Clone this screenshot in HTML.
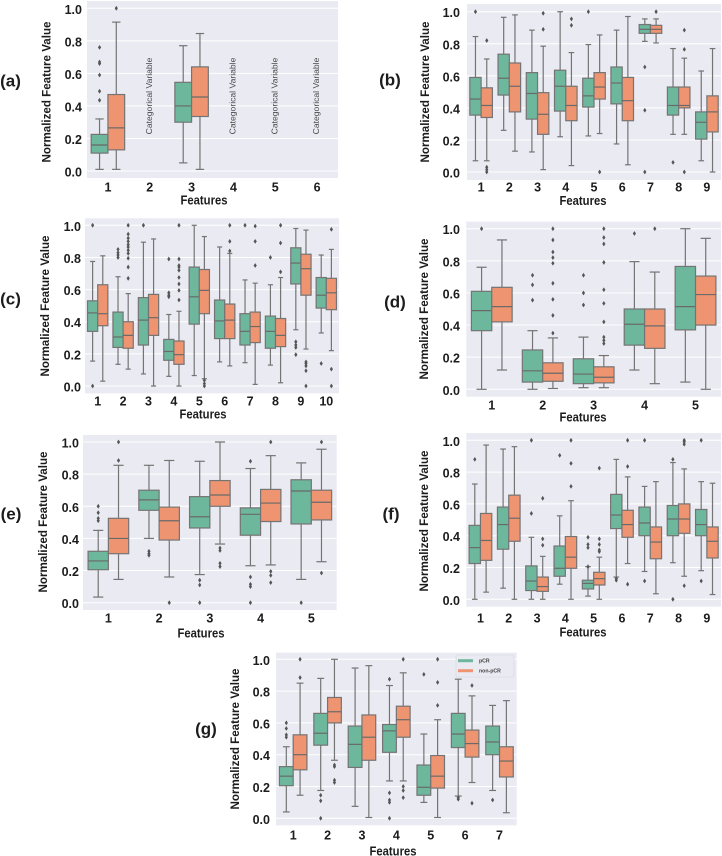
<!DOCTYPE html>
<html lang="en">
<head>
<meta charset="utf-8">
<title>Normalized feature value box plots by response group</title>
<style>
html,body{margin:0;padding:0;background:#fff;width:722px;height:856px;overflow:hidden}
svg{display:block;font-family:"Liberation Sans",sans-serif;filter:blur(0.3px)}
.tick{font-size:12.5px;font-weight:bold;fill:#1c1c1c}
.ytitle{font-size:12.2px;font-weight:bold;fill:#1c1c1c}
.xtitle{font-size:12.6px;font-weight:bold;fill:#1c1c1c}
.plabel{font-size:17px;font-weight:bold;fill:#1c1c1c}
.note{font-size:8.6px;fill:#4a4a4a}
.legtext{font-size:5.2px;font-weight:bold;fill:#444}
</style>
</head>
<body>
<svg id="figure" width="722" height="856" viewBox="0 0 722 856" xmlns="http://www.w3.org/2000/svg"></svg>
<script>
// Shared tick labels
const yTickValues = [0, 0.2, 0.4, 0.6, 0.8, 1.0];
const yTickLabels = ["0.0", "0.2", "0.4", "0.6", "0.8", "1.0"];
const seriesNames = ["pCR", "non-pCR"];

// Each stat row is: lower whisker, Q1, median, Q3, upper whisker
// Panel (a)
const aCategories = [1, 2, 3, 4, 5, 6];
const aNotes = [null, "Categorical Variable", null, "Categorical Variable", "Categorical Variable", "Categorical Variable"];
const aPcrStats = [[.01,.11,.16,.225,.32], null, [.05,.30,.40,.545,.77], null, null, null];
const aNonStats = [[.01,.13,.265,.47,.915], null, [.01,.335,.455,.64,.845], null, null, null];
const aPcrFliers = [[.76,.67,.66,.59,.49,.435], [], [], [], [], []];
const aNonFliers = [[1.0], [], [], [], [], []];

// Panel (b)
const bCategories = [1, 2, 3, 4, 5, 6, 7, 8, 9];
const bPcrStats = [[.07,.355,.455,.59,.845],[.26,.48,.585,.735,.965],[.125,.33,.49,.62,.885],[.22,.38,.535,.635,1.0],[.225,.405,.475,.585,.795],[.175,.425,.555,.655,.885],[.815,.865,.89,.92,.955],[.235,.355,.415,.53,.77],[.07,.205,.31,.375,.63]];
const bNonStats = [[.07,.34,.415,.525,.705],[.13,.375,.535,.68,.98],[.015,.235,.36,.495,.785],[.04,.32,.415,.535,.745],[.24,.455,.53,.62,.855],[.045,.32,.445,.59,.97],[.805,.865,.89,.915,.955],[.235,.40,.415,.53,.71],[0,.25,.375,.475,.77]];
const bPcrFliers = [[1.0],[],[],[],[1.0],[],[.655,.385,0],[.06],[]];
const bNonFliers = [[.82,.03,.015,0],[],[.99,.89],[.955,.915],[0],[],[1.0],[.885,.765,0],[]];

// Panel (c)
const cCategories = [1, 2, 3, 4, 5, 6, 7, 8, 9, 10];
const cPcrStats = [[.155,.34,.455,.53,.775],[.135,.24,.305,.46,.68],[.075,.255,.41,.55,.895],[.06,.16,.215,.29,.445],[.065,.385,.555,.74,1.0],[.15,.295,.405,.535,.865],[.145,.255,.34,.45,.66],[.13,.235,.34,.435,.63],[.35,.635,.765,.86,.98],[.33,.485,.565,.675,.815]];
const cNonStats = [[.03,.375,.45,.63,.81],[.105,.235,.315,.40,.575],[0,.315,.425,.57,.915],[0,.135,.195,.28,.465],[.045,.45,.595,.725,.93],[.125,.295,.41,.51,.825],[.01,.27,.37,.46,.64],[.02,.245,.315,.42,.675],[.23,.565,.73,.82,.97],[.22,.475,.58,.67,.85]];
const cPcrFliers = [[1.0,0],[.85,.83,.815,.8],[1.0],[.79,.58,.565,.555],[],[],[1.0],[.8],[.275,.255,.24,.195],[.14]];
const cNonFliers = [[],[1,.945,.92,.9,.88,.865,.845,.825,.795,.74,.67],[],[1,.79,.75,.74,.72,.675,.635,.595,.535],[.035,.015,0],[1,.9,.84],[.995,.9,.75],[1,.89,.71],[.15,.14,.125,.095,0],[.975,.105,0]];

// Panel (d)
const dCategories = [1, 2, 3, 4, 5];
const dPcrStats = [[0,.365,.49,.61,.76],[0,.045,.115,.245,.365],[.01,.035,.095,.19,.325],[.12,.275,.405,.50,.795],[.045,.37,.515,.765,1.0]];
const dNonStats = [[.12,.42,.515,.635,.93],[.005,.05,.10,.165,.32],[.01,.04,.075,.14,.21],[.035,.255,.395,.50,.73],[0,.40,.59,.705,.94]];
const dPcrFliers = [[1.0],[.71,.65,.555],[.71,.60,.525],[.97],[]];
const dNonFliers = [[],[1,.93,.855,.82,.785,.66,.56,.46,.35],[1,.945,.905,.79,.62,.535,.42,.325,.305,.285],[1.0],[]];

// Panel (e)
const eCategories = [1, 2, 3, 4, 5];
const ePcrStats = [[.035,.205,.26,.32,.45],[.40,.575,.64,.70,.855],[.175,.465,.535,.66,.88],[.23,.42,.55,.59,.835],[.145,.49,.695,.765,.87]];
const eNonStats = [[.145,.305,.40,.525,.855],[.16,.39,.51,.595,.885],[.365,.60,.67,.76,1.0],[.235,.505,.62,.705,.915],[.255,.515,.625,.70,.955]];
const ePcrFliers = [[.6,.56,.525,.51],[.32,.305,.295],[.14,.11,0],[.88,.16,.115,.10,0],[0]];
const eNonFliers = [[1,.885],[0],[.34,.325,.245,.225],[1,.195,.17,.125],[1,.185]];

// Panel (f)
const fCategories = [1, 2, 3, 4, 5, 6, 7, 8, 9];
const fPcrStats = [[0,.225,.325,.465,.725],[.07,.315,.47,.58,.945],[0,.055,.115,.21,.39],[.095,.145,.195,.335,.525],[.02,.065,.10,.12,.205],[.14,.445,.53,.66,.88],[.175,.40,.48,.58,.71],[.23,.40,.505,.59,.86],[.18,.40,.47,.565,.74]];
const fNonStats = [[.045,.245,.37,.54,.97],[0,.365,.51,.655,.96],[0,.05,.08,.14,.27],[0,.195,.265,.395,.62],[0,.09,.13,.17,.265],[.225,.39,.47,.56,.77],[.035,.255,.36,.455,.74],[.145,.415,.505,.60,.82],[.03,.26,.365,.455,.73]];
const fPcrFliers = [[.88],[],[1,.54],[.905],[.39,.345,.325,.205],[.13,.12],[1,.115],[.88,0],[1,.115]];
const fNonFliers = [[],[],[.635,.38,.34],[1,.855,.71],[.825,.38,.345,.31,.30],[1,.835,.095],[],[1,.99,.975,.085],[]];

// Panel (g)
const gCategories = [1, 2, 3, 4, 5, 6, 7];
const gPcrStats = [[.04,.205,.265,.325,.45],[.175,.46,.535,.66,.88],[.075,.32,.465,.58,.945],[.235,.415,.55,.59,.835],[.10,.145,.195,.335,.53],[.14,.445,.53,.66,.875],[.175,.40,.48,.58,.71]];
const gNonStats = [[.145,.305,.40,.525,.85],[.365,.60,.67,.76,1.0],[.005,.365,.51,.65,.96],[.235,.51,.62,.705,.915],[.005,.19,.265,.395,.62],[.225,.385,.47,.555,.77],[.035,.26,.36,.45,.74]];
const gPcrFliers = [[.6,.565,.525,.51],[.145,.11,0],[],[.875,.16,.115,.10,0],[.905],[.13,.12],[.115]];
const gNonFliers = [[1,.885],[.335,.325,.24,.225],[],[1,.2,.175,.13],[1,.855,.71],[.835,.095],[]];

const svg = document.getElementById('figure');
const NS = 'http://www.w3.org/2000/svg';
const COLORS = ['#6db79d', '#ee9471'];
const LINE = '#747474';
const LW = 1.2;

function make(parent, tag, attrs, content) {
  const el = document.createElementNS(NS, tag);
  for (const k in attrs) el.setAttribute(k, attrs[k]);
  if (content !== undefined) el.textContent = content;
  parent.appendChild(el);
  return el;
}

function drawBox(parent, cx, w, stats, fliers, color, yScale, seriesIdx, catLabel) {
  const group = make(parent, 'g', {});
  
  
  if (stats) {
    const [lo, q1, med, q3, hi] = stats;
    const cap = w / 4;
    const w1 = make(group, 'line', {x1: cx, x2: cx, y1: yScale(lo), y2: yScale(q1), stroke: LINE, 'stroke-width': LW});
    
    
    const w2 = make(group, 'line', {x1: cx, x2: cx, y1: yScale(q3), y2: yScale(hi), stroke: LINE, 'stroke-width': LW});
    
    
    const c1 = make(group, 'line', {x1: cx - cap, x2: cx + cap, y1: yScale(lo), y2: yScale(lo), stroke: LINE, 'stroke-width': LW});
    
    
    const c2 = make(group, 'line', {x1: cx - cap, x2: cx + cap, y1: yScale(hi), y2: yScale(hi), stroke: LINE, 'stroke-width': LW});
    
    
    const rect = make(group, 'rect', {x: cx - w / 2, y: yScale(q3), width: w, height: yScale(q1) - yScale(q3), fill: color, stroke: LINE, 'stroke-width': LW});
    
    
    const m = make(group, 'line', {x1: cx - w / 2, x2: cx + w / 2, y1: yScale(med), y2: yScale(med), stroke: '#6a6a6a', 'stroke-width': LW});
    
    
  }
  (fliers || []).forEach(v => {
    const y = yScale(v);
    const pts = [[cx, y - 2.4], [cx + 1.6, y], [cx, y + 2.4], [cx - 1.6, y]].map(p => p.join(',')).join(' ');
    const f = make(group, 'polygon', {points: pts, fill: '#555'});
    
    
  });
}

function drawPanel(cfg) {
  const {id, x0, x1, top, bottom, y1px, y0px, cats, pcr, non, pcrF, nonF, notes} = cfg;
  const n = cats.length;
  const yScale = v => y0px + (y1px - y0px) * v;
  const band = (x1 - x0) / n;
  const xScale = i => x0 + (i + 0.5) * band;
  const boxW = band * 0.4;

  const panel = make(svg, 'g', {});
  
  

  const bg = make(panel, 'rect', {x: x0, y: top, width: x1 - x0, height: bottom - top, fill: '#eaeaf2'});
  
  

  yTickValues.forEach((v, i) => {
    const grid = make(panel, 'line', {x1: x0, x2: x1, y1: yScale(v), y2: yScale(v), stroke: '#fff', 'stroke-width': 1});
    
    
    const t = make(panel, 'text', {class: 'tick', x: cfg.yLabelX, y: yScale(v) + 5.5, 'text-anchor': 'end'}, yTickLabels[i]);
    
    
  });

  cats.forEach((c, i) => {
    const cx = xScale(i);
    if (notes && notes[i]) {
      const note = make(panel, 'text', {class: 'note', transform: 'translate(' + (cx - 1) + ',' + ((top + bottom) / 2 + 6.5) + ') rotate(-90)', 'text-anchor': 'middle', 'dominant-baseline': 'central'}, notes[i]);
      
      
    }
    drawBox(panel, cx - boxW / 2, boxW, pcr[i], pcrF[i], COLORS[0], yScale, 0, c);
    drawBox(panel, cx + boxW / 2, boxW, non[i], nonF[i], COLORS[1], yScale, 1, c);
    const t = make(panel, 'text', {class: 'tick', x: cx, y: cfg.xLabelY + 4.3, 'text-anchor': 'middle'}, String(c));
    
    
  });

  const yt = make(panel, 'text', {class: 'ytitle', transform: 'translate(' + cfg.yTitleX + ',' + cfg.yTitleY + ') rotate(-90)', 'text-anchor': 'middle', 'dominant-baseline': 'central', textLength: 141, lengthAdjust: 'spacingAndGlyphs'}, 'Normalized Feature Value');
  
  

  const xt = make(panel, 'text', {class: 'xtitle', x: cfg.xTitleX, y: cfg.xTitleY + 4.3, 'text-anchor': 'middle', textLength: 47, lengthAdjust: 'spacingAndGlyphs'}, 'Features');
  
  

  const pl = make(panel, 'text', {class: 'plabel', x: cfg.labelX, y: cfg.labelY + 5.5, 'text-anchor': 'middle'}, '(' + id + ')');
  
  
}

drawPanel({id: 'a', x0: 87, x1: 338, top: 1, bottom: 178, y1px: 8.3, y0px: 171, cats: aCategories, pcr: aPcrStats, non: aNonStats, pcrF: aPcrFliers, nonF: aNonFliers, notes: aNotes, yLabelX: 82, xLabelY: 187, yTitleX: 46.7, yTitleY: 92, xTitleX: 204, xTitleY: 200, labelX: 10.5, labelY: 81});
drawPanel({id: 'b', x0: 467, x1: 721, top: 4, bottom: 180, y1px: 11.7, y0px: 172, cats: bCategories, pcr: bPcrStats, non: bNonStats, pcrF: bPcrFliers, nonF: bNonFliers, yLabelX: 460, xLabelY: 187, yTitleX: 425, yTitleY: 92, xTitleX: 583, xTitleY: 200.7, labelX: 390, labelY: 80});
drawPanel({id: 'c', x0: 85, x1: 339, top: 218.3, bottom: 393.3, y1px: 225.3, y0px: 386, cats: cCategories, pcr: cPcrStats, non: cNonStats, pcrF: cPcrFliers, nonF: cNonFliers, yLabelX: 81, xLabelY: 401, yTitleX: 45, yTitleY: 306, xTitleX: 203, xTitleY: 414, labelX: 10.5, labelY: 299});
drawPanel({id: 'd', x0: 466.3, x1: 721, top: 221.7, bottom: 396.7, y1px: 228.7, y0px: 389.3, cats: dCategories, pcr: dPcrStats, non: dNonStats, pcrF: dPcrFliers, nonF: dNonFliers, yLabelX: 460, xLabelY: 405, yTitleX: 424, yTitleY: 309, xTitleX: 583, xTitleY: 417, labelX: 395, labelY: 302});
drawPanel({id: 'e', x0: 83, x1: 336.7, top: 435, bottom: 610, y1px: 442, y0px: 602.7, cats: eCategories, pcr: ePcrStats, non: eNonStats, pcrF: ePcrFliers, nonF: eNonFliers, yLabelX: 79, xLabelY: 618, yTitleX: 43, yTitleY: 522, xTitleX: 201, xTitleY: 633, labelX: 11, labelY: 514});
drawPanel({id: 'f', x0: 466.3, x1: 721, top: 433, bottom: 606.7, y1px: 440.3, y0px: 599.3, cats: fCategories, pcr: fPcrStats, non: fNonStats, pcrF: fPcrFliers, nonF: fNonFliers, yLabelX: 460, xLabelY: 618, yTitleX: 424, yTitleY: 521, xTitleX: 583, xTitleY: 632, labelX: 391, labelY: 514});
drawPanel({id: 'g', x0: 276, x1: 516.7, top: 652.7, bottom: 825.3, y1px: 659.3, y0px: 818.3, cats: gCategories, pcr: gPcrStats, non: gNonStats, pcrF: gPcrFliers, nonF: gNonFliers, yLabelX: 270, xLabelY: 835, yTitleX: 235, yTitleY: 739, xTitleX: 393, xTitleY: 851, labelX: 206, labelY: 729});

// Legend in panel (g)
const legend = make(svg, 'g', {});


const legendFrame = make(legend, 'rect', {x: 456, y: 655, width: 58, height: 22, rx: 1.5, fill: '#eaeaf2', stroke: '#d6d6de', 'stroke-width': 0.6});


seriesNames.forEach((name, i) => {
  const sw = make(legend, 'rect', {x: 458, y: 659.2 + i * 10, width: 15, height: 3, fill: COLORS[i]});
  
  
  const lt = make(legend, 'text', {class: 'legtext', x: 479, y: 662.6 + i * 10}, name);
  
  
});
</script>
</body>
</html>
